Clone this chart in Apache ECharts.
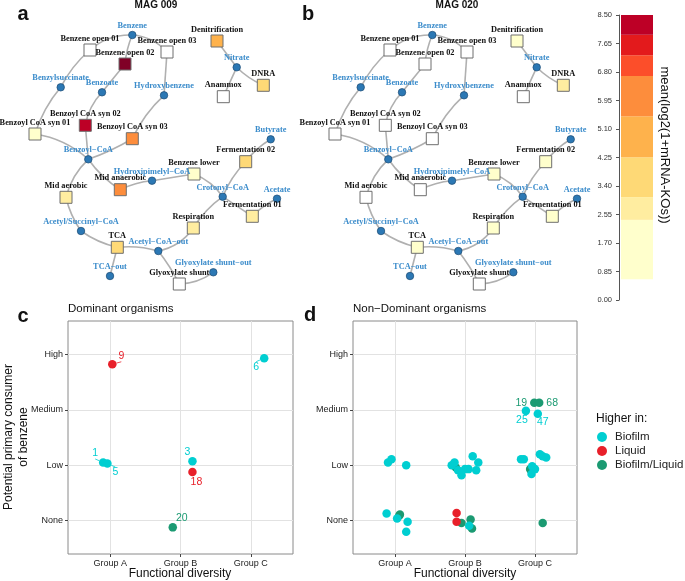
<!DOCTYPE html>
<html>
<head>
<meta charset="utf-8">
<script src="https://cdn.jsdelivr.net/npm/echarts@6/dist/echarts.min.js"></script>
<style>
  html, body { margin: 0; padding: 0; background: #fff; }
  #main { width: 685px; height: 581px; }
</style>
</head>
<body>
<div id="main"></div>
<script>
// ---- network (panels a, b) ----
// kind: e = pathway step (square, coloured by expression), m = metabolite (blue dot)
var nodeNames = ['Benzene', 'Benzene open 01', 'Benzene open 02', 'Benzene open 03', 'Benzylsuccinate',
  'Benzoate', 'Hydroxybenzene', 'Denitrification', 'Nitrate', 'DNRA', 'Anammox',
  'Benzoyl CoA syn 01', 'Benzoyl CoA syn 02', 'Benzoyl CoA syn 03', 'Butyrate', 'Benzoyl\u2212CoA',
  'Fermentation 02', 'Benzene lower', 'Hydroxipimelyl\u2212CoA', 'Mid anaerobic', 'Mid aerobic',
  'Crotonyl\u2212CoA', 'Acetate', 'Fermentation 01', 'Respiration', 'Acetyl/Succinyl\u2212CoA', 'TCA',
  'Acetyl\u2212CoA\u2212out', 'TCA\u2212out', 'Glyoxylate shunt\u2212out', 'Glyoxylate shunt'];
var nodeKind = ['m','e','e','e','m','m','m','e','m','e','e','e','e','e','m','m',
  'e','e','m','e','e','m','m','e','e','m','e','m','m','m','e'];
var nodeX = [132.3, 90, 125, 167, 60.7, 102, 164, 217, 236.7, 263.3, 223.3, 35, 85.3, 132.3, 270.7, 88.3,
  245.7, 194, 152, 120.3, 66, 222.7, 277, 252.3, 193.3, 81, 117.3, 158.3, 110, 213.3, 179.3];
var nodeY = [35, 50, 64, 52, 87.3, 92.3, 95.3, 41, 67.3, 85.3, 96.7, 134, 125.3, 138.7, 139.3, 159.3,
  161.7, 174, 180.7, 189.7, 197.3, 196.7, 198.7, 216.3, 228, 231, 247.3, 251, 276, 272.3, 284];
// mean(log2(1+mRNA-KOs)) per step; null for metabolites
var mag009 = [null, 0, 8.6, 0, null, null, null, 5.0, null, 3.6, 0, 1.5, 8.1, 6.0, null, null,
  3.6, 1.3, null, 6.1, 2.7, null, null, 2.7, 2.6, null, 3.5, null, null, null, 0];
var mag020 = [null, 0, 0, 0, null, null, null, 1.3, null, 2.5, 0, 0, 0, 0, null, null,
  1.4, 1.4, null, 0, 0, null, null, 1.3, 1.4, null, 1.5, null, null, null, 0];
var edgeFrom = [0, 0, 0, 1, 4, 2, 5, 3, 6, 11, 12, 13, 15, 15, 19, 18, 17, 21, 16, 21, 23, 21, 24, 20, 25, 26, 26, 27, 30, 7, 8, 8];
var edgeTo   = [1, 2, 3, 4, 11, 5, 12, 6, 13, 15, 15, 15, 20, 19, 18, 17, 21, 16, 14, 23, 22, 24, 27, 25, 26, 27, 28, 30, 29, 8, 9, 10];
var edgeBend = [-0.2, -0.08, 0.2, -0.1, -0.1, 0, -0.15, 0, -0.1, 0.15, 0, 0.05, -0.15, -0.1, 0.1, 0, 0.15, 0.1, 0.1, 0, 0.1, -0.1, 0.2, -0.1, -0.1, 0.1, 0, 0.05, -0.15, 0, -0.1, 0];

// ---- colour scale ----
var bandEdges = [0.62, 2.39, 3.07, 4.26, 5.48, 6.68, 7.30, 7.91, 8.5];
var bandColors = ['#ffffcc', '#ffeda0', '#fed976', '#feb24c', '#fd8d3c', '#fc4e2a', '#e31a1c', '#bd0026'];
var colorTicks = [0, 8.5];

// ---- scatter (panels c, d) ----
var groups = ['Group A', 'Group B', 'Group C'];
var levels = ['None', 'Low', 'Medium', 'High'];
// [functional diversity (jittered), consumer level (jittered), label]
var domBiofilm = [[2.19, 2.93, '6'], [-0.1, 1.05, '1'], [-0.04, 1.03, '5'], [1.17, 1.07, '3']];
var domLiquid = [[0.03, 2.82, '9'], [1.17, 0.88, '18']];
var domBoth = [[0.89, -0.12, '20']];
var nonBiofilm = [[1.87, 1.98, '25'], [2.04, 1.93, '47'],
  [-0.1, 1.05, ''], [-0.05, 1.11, ''], [0.16, 1.0, ''],
  [0.81, 1.0, ''], [0.85, 1.05, ''], [0.9, 0.91, ''], [0.95, 0.82, ''], [1.0, 0.93, ''], [1.05, 0.93, ''],
  [1.11, 1.16, ''], [1.16, 0.91, ''], [1.19, 1.05, ''],
  [1.8, 1.11, ''], [1.84, 1.11, ''], [1.96, 0.98, ''], [2.0, 0.93, ''], [1.95, 0.84, ''],
  [2.07, 1.2, ''], [2.11, 1.16, ''], [2.16, 1.14, ''],
  [-0.12, 0.13, ''], [0.03, 0.04, ''], [0.18, -0.02, ''], [0.16, -0.2, ''], [1.06, -0.09, '']];
var nonLiquid = [[0.88, 0.14, ''], [0.88, -0.02, '']];
var nonBoth = [[1.99, 2.125, '19'], [2.06, 2.125, '68'], [0.87, 0.96, ''], [1.93, 0.93, ''],
  [0.06, 0.09, ''], [0.07, 0.11, ''], [0.95, -0.04, ''], [1.08, 0.02, ''], [1.1, -0.14, ''], [2.11, -0.04, '']];

var labelShift = { '6': [-8, 9], '1': [-8, -9], '5': [8, 9], '3': [-5, -9], '9': [9, -8], '18': [4, 10],
  '20': [9, -9], '19': [-13, 0], '68': [13, 0], '25': [-4, 9], '47': [5, 8] };
var withLeader = { '9': 1, '6': 1, '1': 1, '5': 1 };

var colBiofilm = '#00ced1', colLiquid = '#e8202a', colBoth = '#1b9a72';
var sans = 'Liberation Sans', serif = 'Liberation Serif';

function fillFor(v) {
  if (v == null || v < bandEdges[0]) return '#ffffff';
  for (var i = 0; i < bandColors.length; i++) {
    if (v < bandEdges[i + 1]) return bandColors[i];
  }
  return '#800026';
}

function graphSeries(values, idx) {
  var nodes = nodeNames.map(function (n, i) {
    var isStep = nodeKind[i] === 'e';
    return {
      name: n,
      value: [nodeX[i], nodeY[i]],
      symbol: isStep ? 'rect' : 'circle',
      symbolSize: isStep ? 12 : 7.5,
      itemStyle: {
        color: isStep ? fillFor(values[i]) : '#2c78b4',
        borderColor: isStep ? '#6e6e6e' : '#1d4b72',
        borderWidth: isStep ? 1 : 0.7
      },
      label: { color: isStep ? '#111' : '#3b8ccb' }
    };
  });
  var links = edgeFrom.map(function (s, i) {
    return { source: s, target: edgeTo[i], lineStyle: { curveness: edgeBend[i] } };
  });
  return {
    type: 'graph',
    coordinateSystem: 'cartesian2d',
    xAxisIndex: idx, yAxisIndex: idx,
    data: nodes,
    links: links,
    edgeSymbol: ['none', 'none'],
    lineStyle: { color: '#b0b0b0', width: 1.6, opacity: 1 },
    label: { show: true, position: 'top', distance: 1, fontFamily: serif, fontWeight: 'bold', fontSize: 8.3 },
    emphasis: { disabled: true },
    silent: true
  };
}

function scatterSeries(name, pts, color, idx) {
  return {
    type: 'scatter',
    name: name,
    xAxisIndex: idx, yAxisIndex: idx,
    symbolSize: 8.5,
    itemStyle: { color: color, opacity: 1 },
    data: pts.map(function (p) {
      return { value: [p[0], p[1]], name: p[2], labelLine: { show: !!withLeader[p[2]] } };
    }),
    label: { show: true, position: 'inside', formatter: '{b}', color: color, fontFamily: sans, fontSize: 10.5 },
    labelLine: { show: false, lineStyle: { color: color, width: 0.8 } },
    labelLayout: function (p) {
      var s = labelShift[pts[p.dataIndex][2]] || [0, 0];
      return { dx: s[0], dy: s[1] };
    },
    emphasis: { disabled: true }
  };
}

function netAxes(idx) {
  return {
    x: { gridIndex: idx, type: 'value', min: 0, max: 290, show: false },
    y: { gridIndex: idx, type: 'value', min: 0, max: 300, inverse: true, show: false }
  };
}

function scatterX(idx) {
  return {
    gridIndex: idx, type: 'value', min: -0.6, max: 2.6,
    axisLine: { show: false, onZero: false },
    axisTick: { show: true, length: 3, lineStyle: { color: '#444' }, customValues: [0, 1, 2] },
    axisLabel: { customValues: [0, 1, 2], formatter: function (v) { return groups[Math.round(v)]; },
      color: '#222', fontFamily: sans, fontSize: 9, margin: 5 },
    splitLine: { show: true, lineStyle: { color: '#e2e2e2', width: 1 } }
  };
}
function scatterY(idx) {
  return {
    gridIndex: idx, type: 'value', min: -0.6, max: 3.6,
    axisLine: { show: false, onZero: false },
    axisTick: { show: true, length: 3, lineStyle: { color: '#444' }, customValues: [0, 1, 2, 3] },
    axisLabel: { customValues: [0, 1, 2, 3], formatter: function (v) { return levels[Math.round(v)]; },
      color: '#222', fontFamily: sans, fontSize: 9, margin: 5 },
    splitLine: { show: true, lineStyle: { color: '#e2e2e2', width: 1 } }
  };
}

var na = netAxes(0), nb = netAxes(1);

// colour bar: stacked bands
var cbSeries = [{
  type: 'bar', stack: 'cb', xAxisIndex: 4, yAxisIndex: 4, barWidth: '100%',
  data: [bandEdges[0]], itemStyle: { color: 'rgba(0,0,0,0)' }, silent: true
}];
bandColors.forEach(function (c, i) {
  cbSeries.push({
    type: 'bar', stack: 'cb', xAxisIndex: 4, yAxisIndex: 4, barWidth: '100%',
    data: [+(bandEdges[i + 1] - bandEdges[i]).toFixed(3)], itemStyle: { color: c }, silent: true
  });
});

var txt = function (t, x, y, font, extra) {
  var o = { type: 'text', x: x, y: y, silent: true,
    style: { text: t, font: font, fill: '#111', textAlign: 'center', textVerticalAlign: 'middle' } };
  if (extra) { for (var k in extra) { if (k === 'style') { for (var s in extra.style) o.style[s] = extra.style[s]; } else o[k] = extra[k]; } }
  return o;
};

var option = {
  animation: false,
  backgroundColor: '#ffffff',
  grid: [
    { left: 0, top: 0, width: 290, height: 300 },
    { left: 300, top: 0, width: 290, height: 300 },
    { left: 68, top: 321, width: 225, height: 233, show: true, borderColor: '#8a8a8a', borderWidth: 1 },
    { left: 353, top: 321, width: 224, height: 233, show: true, borderColor: '#8a8a8a', borderWidth: 1 },
    { left: 621, top: 15, width: 32, height: 285 }
  ],
  xAxis: [na.x, nb.x, scatterX(2), scatterX(3),
    { gridIndex: 4, type: 'category', data: ['k'], show: false }],
  yAxis: [na.y, nb.y, scatterY(2), scatterY(3),
    { gridIndex: 4, type: 'value', min: colorTicks[0], max: colorTicks[1], interval: 0.85, offset: 2,
      axisLine: { show: true, lineStyle: { color: '#555' } },
      axisTick: { show: true, length: 3, lineStyle: { color: '#555' } },
      axisLabel: { color: '#333', fontFamily: sans, fontSize: 7.5, margin: 7,
        formatter: function (v) { return v.toFixed(2); } },
      splitLine: { show: false } }],
  legend: {
    data: ['Biofilm', 'Liquid', 'Biofilm/Liquid'],
    left: 597, top: 430, orient: 'vertical', icon: 'circle',
    itemWidth: 10, itemHeight: 10, itemGap: 0, padding: 0,
    textStyle: { fontFamily: sans, fontSize: 11.5, color: '#222', lineHeight: 14, padding: [0, 0, 0, 3] }
  },
  series: [graphSeries(mag009, 0), graphSeries(mag020, 1)].concat(cbSeries).concat([
    scatterSeries('Biofilm/Liquid', domBoth, colBoth, 2),
    scatterSeries('Biofilm', domBiofilm, colBiofilm, 2),
    scatterSeries('Liquid', domLiquid, colLiquid, 2),
    scatterSeries('Biofilm/Liquid', nonBoth, colBoth, 3),
    scatterSeries('Biofilm', nonBiofilm, colBiofilm, 3),
    scatterSeries('Liquid', nonLiquid, colLiquid, 3)
  ]),
  graphic: [
    txt('a', 23, 14, 'bold 20px ' + sans),
    txt('b', 308, 14, 'bold 20px ' + sans),
    txt('c', 23, 316, 'bold 20px ' + sans),
    txt('d', 310, 315, 'bold 20px ' + sans),
    txt('MAG 009', 156, 5, 'bold 10px ' + sans),
    txt('MAG 020', 457, 5, 'bold 10px ' + sans),
    txt('Dominant organisms', 68, 309, '11.5px ' + sans, { style: { textAlign: 'left' } }),
    txt('Non\u2212Dominant organisms', 353, 309, '11.5px ' + sans, { style: { textAlign: 'left' } }),
    txt('Functional diversity', 180, 574, '12px ' + sans),
    txt('Functional diversity', 465, 574, '12px ' + sans),
    txt('Potential primary consumer\nof benzene', 16, 437, '12px ' + sans,
      { rotation: Math.PI / 2, style: { lineHeight: 15 } }),
    txt('Higher in:', 596, 419, '12px ' + sans, { style: { textAlign: 'left' } }),
    txt('mean(log2(1+mRNA-KOs))', 665, 145, '13px ' + sans, { rotation: -Math.PI / 2 })
  ]
};

var chart = echarts.init(document.getElementById('main'), null, { renderer: 'canvas' });
chart.setOption(option);
</script>
</body>
</html>
